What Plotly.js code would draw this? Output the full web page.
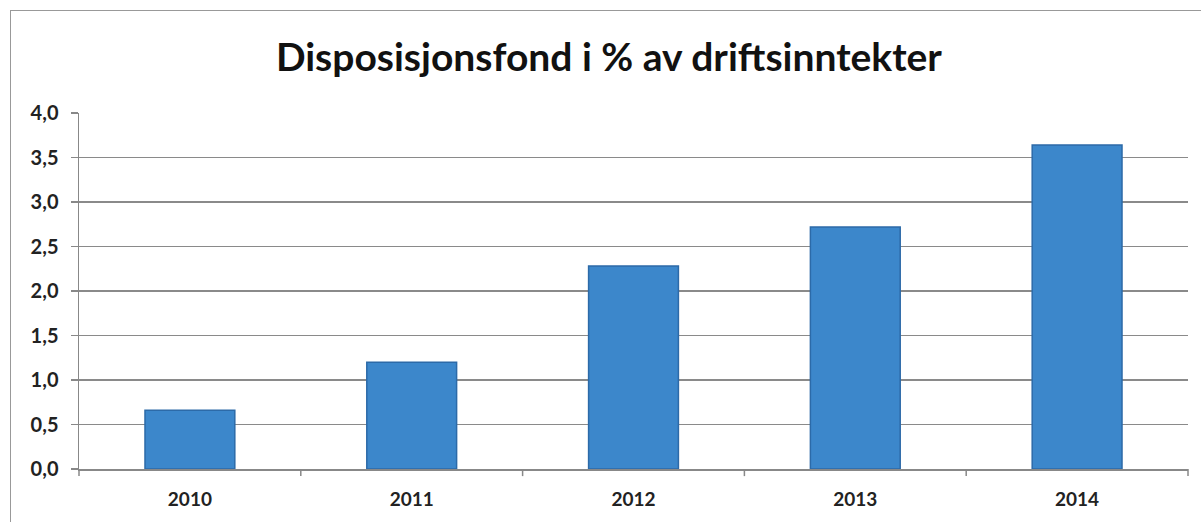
<!DOCTYPE html>
<html>
<head>
<meta charset="utf-8">
<script src="https://cdn.plot.ly/plotly-3.0.1.min.js"></script>
<style>
html,body{margin:0;padding:0;background:#fff;}
#frame{position:absolute;left:10px;top:10px;width:1195px;height:530px;border:1.5px solid #999;box-sizing:border-box;}
#chart{position:absolute;left:0;top:0;width:1201px;height:522px;}
</style>
</head>
<body>
<div id="frame"></div>
<div id="chart"></div>
<script>
const years = ['2010','2011','2012','2013','2014'];
const values = [0.66, 1.20, 2.28, 2.72, 3.64];
const yTicks = [0,0.5,1,1.5,2,2.5,3,3.5,4];
const yTickLabels = ['0,0','0,5','1,0','1,5','2,0','2,5','3,0','3,5','4,0'];

const tickLine = {color:'#888', width:1.5};
const xTickShapes = [];
for (let i = 0; i <= years.length; i++) {
  xTickShapes.push({type:'line', xref:'paper', yref:'paper', x0:i/years.length, x1:i/years.length, y0:0, y1:-0.02, line:tickLine});
}

const data = [{
  type:'bar', x:years, y:values,
  marker:{color:'#3C87CB', line:{color:'#2C6AA8', width:1.5}},
  hoverinfo:'skip'
}];
const layout = {
  width:1201, height:522,
  margin:{l:79, r:13, t:113, b:53},
  paper_bgcolor:'rgba(0,0,0,0)', plot_bgcolor:'rgba(0,0,0,0)',
  bargap:0.595,
  showlegend:false,
  title:{text:'Disposisjonsfond i % av driftsinntekter', x:0.507, xanchor:'center', y:0.89, yanchor:'middle',
    font:{family:'Lato, "Open Sans", sans-serif', size:39, color:'#111', weight:'bold'}},
  xaxis:{type:'category', showgrid:false, showline:true, linecolor:'#888', linewidth:1.5,
    ticks:'', tickfont:{family:'Lato, "Open Sans", sans-serif', size:19, color:'#222', weight:'bold'},
    ticklabelstandoff:13, zeroline:false, fixedrange:true},
  yaxis:{range:[0,4], tickvals:yTicks, ticktext:yTickLabels, showgrid:true, gridcolor:'#8a8a8a', gridwidth:1.5,
    showline:true, linecolor:'#888', linewidth:1.5, ticks:'outside', ticklen:7, tickcolor:'#888', tickwidth:1.5,
    ticklabelstandoff:8,
    tickfont:{family:'Lato, "Open Sans", sans-serif', size:20, color:'#222', weight:'bold'}, zeroline:false, fixedrange:true},
  shapes: xTickShapes
};
Plotly.newPlot('chart', data, layout, {displayModeBar:false, staticPlot:true});
</script>
</body>
</html>
